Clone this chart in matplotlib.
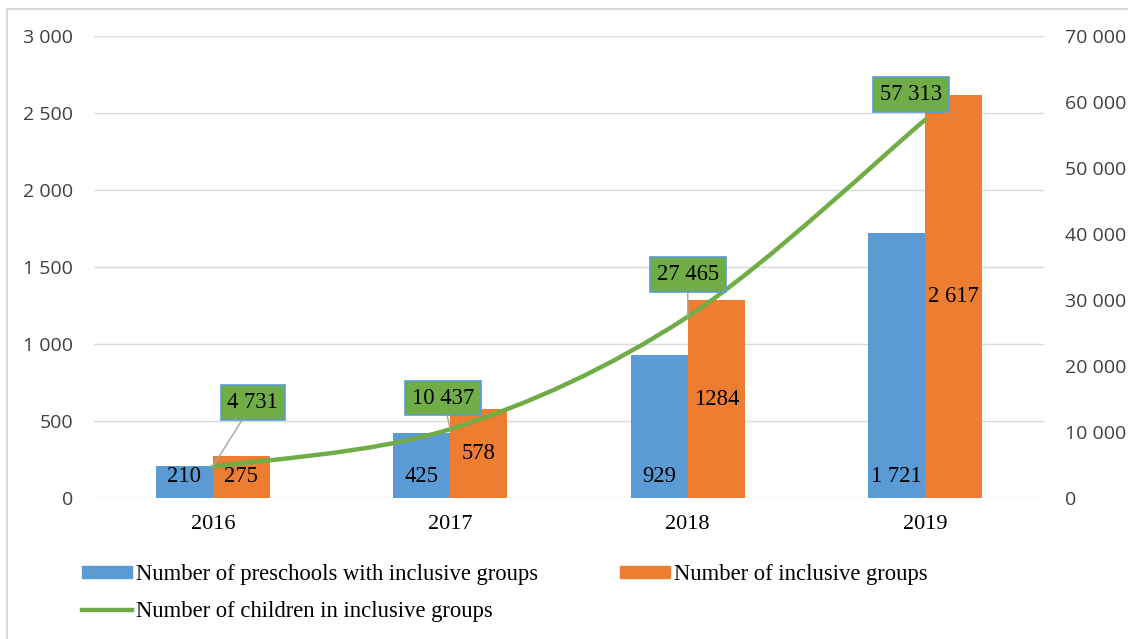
import matplotlib
matplotlib.use("Agg")
import matplotlib.pyplot as plt
from matplotlib.patches import Patch, Rectangle, PathPatch
from matplotlib.lines import Line2D
from matplotlib.path import Path
from matplotlib.ticker import FuncFormatter
import numpy as np

years = ["2016", "2017", "2018", "2019"]
preschools = [210, 425, 929, 1721]
groups = [275, 578, 1284, 2617]
children = [4731, 10437, 27465, 57313]
preschool_labels = ["210", "425", "929", "1 721"]
group_labels = ["275", "578", "1284", "2 617"]
children_labels = ["4 731", "10 437", "27 465", "57 313"]

BLUE = "#5B9BD5"
ORANGE = "#ED7D31"
GREEN = "#70AD47"
GRID = "#D9D9D9"
SERIF = "Liberation Serif"
SANS = "Open Sans"


def spaced(v, pos=None):
    return f"{int(v):,}".replace(",", " ")


fig = plt.figure(figsize=(11.28, 6.39), dpi=100)
ax = fig.add_axes([94 / 1128, 1 - 498 / 639, 950 / 1128, 462 / 639])
ax2 = ax.twinx()

x = np.arange(len(years))
w = 0.24
ax.bar(x - w / 2, preschools, w, color=BLUE, zorder=2)
ax.bar(x + w / 2, groups, w, color=ORANGE, zorder=2)

ax.set_xlim(-0.5, 3.5)
ax.set_ylim(0, 3000)
ax.set_yticks(range(0, 3001, 500))
ax.yaxis.set_major_formatter(FuncFormatter(spaced))
ax.set_xticks(x)
ax.set_xticklabels(years, fontfamily=SERIF, fontsize=16)
ax.tick_params(axis="x", length=0, pad=12)
ax.tick_params(axis="y", length=0, pad=15, labelsize=14, labelcolor="#404040")
for lbl in ax.get_yticklabels():
    lbl.set_fontfamily(SANS)
ax.grid(axis="y", color=GRID, lw=1, zorder=0)
ax.set_axisbelow(True)
for s in ax.spines.values():
    s.set_visible(False)

# bar value labels
for i in range(len(years)):
    ax.annotate(preschool_labels[i], (x[i] - w / 2, 0), xytext=(0, 22),
                textcoords="offset pixels", ha="center", va="center",
                fontfamily=SERIF, fontsize=16.3, zorder=5)
    ax.text(x[i] + w / 2, groups[i] / 2, group_labels[i], ha="center",
            va="center", fontfamily=SERIF, fontsize=16.3, zorder=5)

# smoothed line on secondary axis (Catmull-Rom style bezier through the points)
pts = np.column_stack([x, children]).astype(float)
ext = np.vstack([pts[0], pts, pts[-1]])
verts = [tuple(pts[0])]
codes = [Path.MOVETO]
for i in range(len(pts) - 1):
    p0, p1, p2, p3 = ext[i], ext[i + 1], ext[i + 2], ext[i + 3]
    c1 = p1 + (p2 - p0) / 6
    c2 = p2 - (p3 - p1) / 6
    verts += [tuple(c1), tuple(c2), tuple(p2)]
    codes += [Path.CURVE4] * 3
ax2.add_patch(PathPatch(Path(verts, codes), fill=False, edgecolor=GREEN,
                        lw=3.2, capstyle="round", zorder=3))

ax2.set_ylim(0, 70000)
ax2.set_yticks(range(0, 70001, 10000))
ax2.yaxis.set_major_formatter(FuncFormatter(spaced))
ax2.tick_params(axis="y", length=0, pad=15, labelsize=14, labelcolor="#404040")
for lbl in ax2.get_yticklabels():
    lbl.set_fontfamily(SANS)
for s in ax2.spines.values():
    s.set_visible(False)

offsets = [(40, 64), (-7, 31), (0, 42), (-14, 25)]
for i in range(len(years)):
    arrow = dict(arrowstyle="-", color="#A6A6A6", lw=1, shrinkA=0, shrinkB=0) if i < 3 else None
    ax2.annotate(children_labels[i], (x[i], children[i]), xytext=offsets[i],
                 textcoords="offset pixels", ha="center", va="center",
                 fontfamily=SERIF, fontsize=16.3, zorder=6,
                 bbox=dict(boxstyle="square,pad=0.3", fc=GREEN, ec=BLUE, lw=1.2),
                 arrowprops=arrow)

handles = [Patch(color=BLUE, label="Number of preschools with inclusive groups"),
           Line2D([], [], color=GREEN, lw=3.2, label="Number of children in inclusive groups"),
           Patch(color=ORANGE, label="Number of inclusive groups")]
fig.legend(handles=handles, loc="upper left", bbox_to_anchor=(82 / 1128, 1 - 564 / 639),
           ncol=2, frameon=False, prop={"family": SERIF, "size": 16.3},
           handlelength=2.2, handleheight=0.45, handletextpad=0.2,
           labelspacing=0.72, columnspacing=3.6, borderpad=0, borderaxespad=0)

fig.patches.append(Rectangle((7 / 1128, -0.05), 1.2, 1.05 - 9 / 639,
                             transform=fig.transFigure, fill=False,
                             edgecolor=GRID, lw=1.5))

fig.savefig("out.png", dpi=100)
